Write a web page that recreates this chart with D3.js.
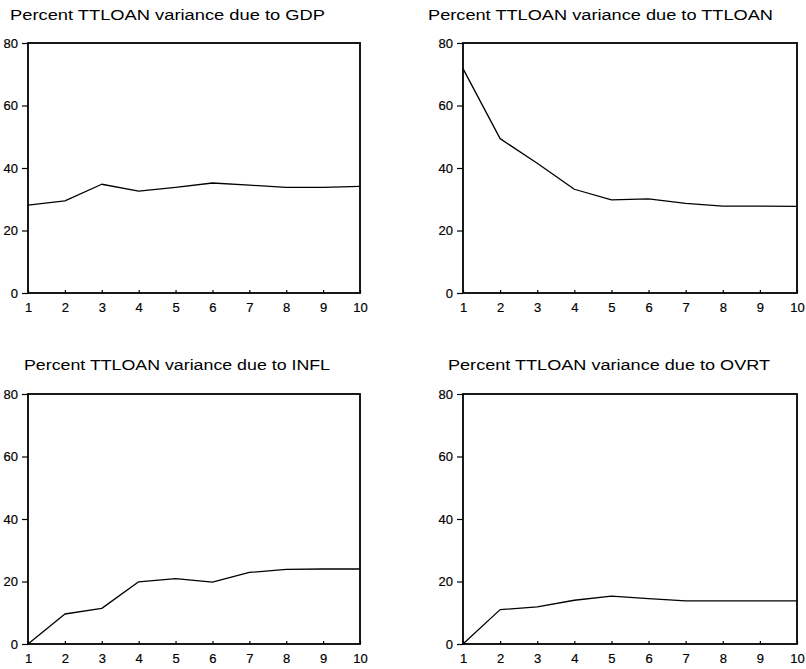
<!DOCTYPE html>
<html>
<head>
<meta charset="utf-8">
<script src="https://cdn.jsdelivr.net/npm/d3@7/dist/d3.min.js"></script>
<style>
  html, body { margin: 0; padding: 0; background: #fff; }
  svg { display: block; }
  text { font-family: "Liberation Sans", Arial, Helvetica, sans-serif; fill: #000; }
</style>
</head>
<body>
<svg id="chart" width="806" height="669"></svg>
<script>
// Forecast horizons (periods)
const periods = [1, 2, 3, 4, 5, 6, 7, 8, 9, 10];

// Variance decomposition of TTLOAN: percent due to each shock
const gdpShare    = [28.1, 29.5, 34.8, 32.6, 33.8, 35.2, 34.5, 33.8, 33.8, 34.1];
const ttloanShare = [71.8, 49.4, 41.5, 33.2, 29.8, 30.1, 28.7, 27.8, 27.8, 27.7];
const inflShare   = [0.0, 9.6, 11.4, 19.9, 20.9, 19.8, 22.9, 23.9, 24.0, 24.0];
const ovrtShare   = [0.0, 11.0, 11.9, 14.0, 15.3, 14.5, 13.8, 13.8, 13.8, 13.8];

// Axis tick labels
const yTicks = [0, 20, 40, 60, 80];
const xTicks = periods;

// Panel titles
const titles = [
  "Percent TTLOAN variance due to GDP",
  "Percent TTLOAN variance due to TTLOAN",
  "Percent TTLOAN variance due to INFL",
  "Percent TTLOAN variance due to OVRT"
];
const seriesList = [gdpShare, ttloanShare, inflShare, ovrtShare];

// Panel geometry: plot box and title placement
const layout = [
  { x0: 28,  x1: 360, y0: 43,  y1: 293, tx: 10,  ty: 19.5,  tw: 315 },
  { x0: 463, x1: 797, y0: 43,  y1: 293, tx: 428, ty: 19.5,  tw: 345 },
  { x0: 28,  x1: 360, y0: 394, y1: 644, tx: 24,  ty: 369.5, tw: 306 },
  { x0: 463, x1: 797, y0: 394, y1: 644, tx: 448, ty: 369.5, tw: 322 }
];

const svg = d3.select("#chart");

layout.forEach((L, i) => {
  const g = svg.append("g");
  const x = d3.scaleLinear().domain([1, 10]).range([L.x0, L.x1]);
  const y = d3.scaleLinear().domain([0, 80]).range([L.y1, L.y0]);

  // title
  g.append("text")
    .attr("x", L.tx)
    .attr("y", L.ty)
    .attr("font-size", 15.5)
    .attr("textLength", L.tw)
    .attr("lengthAdjust", "spacingAndGlyphs")
    .text(titles[i]);

  // y axis
  const ya = g.append("g")
    .attr("transform", `translate(${L.x0},0)`)
    .call(d3.axisLeft(y).tickValues(yTicks).tickSizeInner(6).tickSizeOuter(0).tickPadding(4));
  ya.select(".domain").remove();
  ya.selectAll("line").attr("stroke", "#000").attr("stroke-width", 1.2);
  ya.selectAll("text").attr("font-size", 13).attr("font-family", "Liberation Sans, Arial, sans-serif")
    .attr("stroke", "#000").attr("stroke-width", 0.2);

  // x axis
  const xa = g.append("g")
    .attr("transform", `translate(0,${L.y1})`)
    .call(d3.axisBottom(x).tickValues(xTicks).tickFormat(d3.format("d"))
      .tickSizeInner(-3).tickSizeOuter(0).tickPadding(9.5));
  xa.select(".domain").remove();
  xa.selectAll("line").attr("stroke", "#000").attr("stroke-width", 1.2);
  xa.selectAll("text").attr("font-size", 13).attr("font-family", "Liberation Sans, Arial, sans-serif")
    .attr("stroke", "#000").attr("stroke-width", 0.2);

  // plot frame
  g.append("rect")
    .attr("x", L.x0).attr("y", L.y0)
    .attr("width", L.x1 - L.x0).attr("height", L.y1 - L.y0)
    .attr("fill", "none").attr("stroke", "#000").attr("stroke-width", 1.8);

  // response line
  const line = d3.line().x((d, j) => x(periods[j])).y(d => y(d));
  g.append("path")
    .datum(seriesList[i])
    .attr("d", line)
    .attr("fill", "none")
    .attr("stroke", "#000")
    .attr("stroke-width", 1.3)
    .attr("stroke-linejoin", "round");
});
</script>
</body>
</html>
